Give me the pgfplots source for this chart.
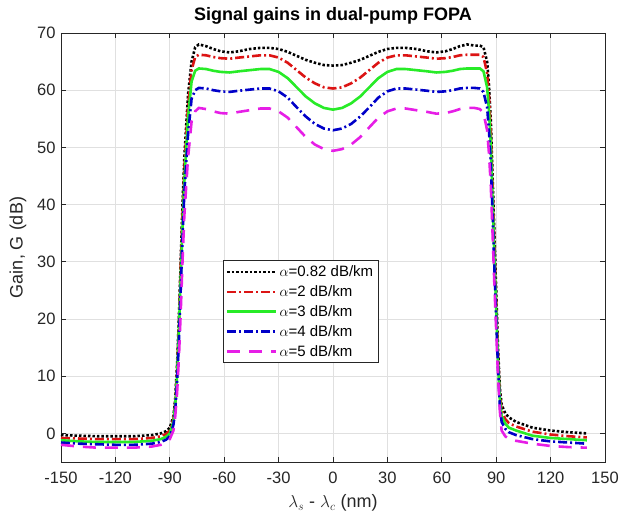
\documentclass[border=0pt]{standalone}
\usepackage{pgfplots}
\pgfplotsset{compat=1.18}
\usepackage{pgfplotstable}
\usepackage{fontspec}
\setmainfont{Liberation Sans}
\definecolor{axgray}{RGB}{38,38,38}
\definecolor{mred}{RGB}{220,20,20}
\definecolor{mgreen}{RGB}{40,235,40}
\definecolor{mblue}{RGB}{0,0,200}
\definecolor{mmag}{RGB}{230,30,230}
\pgfplotstableread{
x a b c d e
-150 -0.3 -0.8 -1.2 -1.6 -2.0
-140 -0.4 -0.9 -1.4 -1.8 -2.3
-130 -0.5 -1.0 -1.5 -1.9 -2.5
-120 -0.5 -1.0 -1.5 -2.0 -2.5
-110 -0.5 -1.0 -1.5 -2.0 -2.5
-100 -0.3 -0.8 -1.3 -1.8 -2.3
-95 0.0 -0.5 -1.0 -1.5 -2.0
-92 0.4 -0.1 -0.6 -1.1 -1.6
-90 1.0 0.5 0.0 -0.5 -1.0
-88 3 2.5 2 1.5 0.5
-87 6 5.5 5 4 3
-86 12 11 10 9 7
-85 20 19 18 16 13
-84 30 29 27 25 21
-83 40 38 36 34 30
-82 48 46 44 42 38
-80 59 57 55 52 48
-78 65 63.5 61.5 58.5 54.5
-76 67.5 65.8 63.4 60.0 56.3
-74 68 66.2 63.8 60.4 56.9
-70 67.7 66.1 63.7 60.3 56.7
-66 67.2 65.8 63.4 60.0 56.3
-62 66.8 65.6 63.2 59.8 56.0
-57 66.6 65.5 63.1 59.7 55.9
-52 66.8 65.7 63.3 59.9 56.2
-46 67.2 65.9 63.5 60.1 56.5
-40 67.4 66.1 63.7 60.3 56.8
-35 67.4 66.1 63.7 60.3 56.8
-30 67.2 65.7 63.2 59.8 56.3
-25 66.7 64.8 62.1 58.7 55.2
-20 66.0 63.5 60.5 57.0 53.5
-15 65.3 62.2 58.9 55.4 51.8
-10 64.8 61.2 57.7 54.1 50.5
-5 64.4 60.5 56.9 53.3 49.7
0 64.3 60.3 56.6 53.0 49.4
5 64.4 60.5 56.9 53.3 49.7
10 64.8 61.2 57.7 54.1 50.5
15 65.3 62.2 58.9 55.4 51.8
20 66.0 63.5 60.5 57.0 53.5
25 66.7 64.8 62.1 58.7 55.2
30 67.2 65.7 63.2 59.8 56.3
35 67.4 66.1 63.7 60.3 56.8
40 67.4 66.1 63.7 60.3 56.8
46 67.2 65.9 63.5 60.1 56.5
52 66.8 65.7 63.3 59.9 56.2
57 66.6 65.5 63.1 59.7 55.9
62 66.8 65.6 63.2 59.8 56.0
66 67.2 65.8 63.4 60.0 56.3
70 67.7 66.1 63.7 60.3 56.7
74 68 66.2 63.8 60.4 56.9
78 67.8 66.2 63.8 60.4 56.9
81 67.8 66.2 63.8 60.3 56.7
83 67.5 65.8 63.3 59.7 56.0
85 65 63 60.5 57 53
86 61 59 56.5 53 49
87 55 53 50.5 47.5 43.5
88 45 43 41 38.5 35
89 35 33 31 29 26
90 25 23 21.5 20 18
91 15 13.5 12.5 11.5 10
92 8 7 6 5 4
93 5 4 3 2 0.5
95 3.5 2.5 1.7 0.8 -0.5
97 2.8 1.8 1.0 0.2 -1.0
101 2.0 1.2 0.5 -0.3 -1.3
110 1.0 0.3 -0.4 -1.0 -1.8
120 0.5 -0.2 -0.8 -1.4 -2.2
130 0.2 -0.5 -1.0 -1.6 -2.4
140 0.0 -0.7 -1.2 -1.8 -2.5
}\gaindata
\begin{document}
\begin{tikzpicture}
\begin{axis}[
  name=ax,
  width=544pt, height=429pt, scale only axis,
  xmin=-150, xmax=150, ymin=-5, ymax=70,
  xtick={-150,-120,...,150}, ytick={0,10,...,70},
  /pgf/number format/assume math mode=true,
  tick label style={font=\fontsize{16.5}{19}\selectfont, text=axgray},
  xticklabel style={yshift=-6pt},
  yticklabel style={xshift=-2pt},
  grid=major,
  major grid style={color=black!12, line width=0.6pt},
  axis line style={color=axgray, line width=0.8pt},
  tick style={color=axgray, line width=0.8pt},
  tick align=inside,
  major tick length=5pt,
  xtick pos=both, ytick pos=both,
  title={\textbf{Signal gains in dual-pump FOPA}},
  title style={font=\fontsize{18}{21}\selectfont, at={(axis description cs:0.5,1.025)}, anchor=center},
  xlabel={$\lambda_s$ - $\lambda_c$ (nm)},
  xlabel style={font=\fontsize{18}{21}\selectfont, text=axgray, at={(axis description cs:0.5,-0.096)}, anchor=center},
  ylabel={Gain, G (dB)},
  ylabel style={font=\fontsize{18}{21}\selectfont, text=axgray, at={(axis description cs:-0.079,0.5)}, anchor=center},
  legend style={at={(axis description cs:0.297,0.470)}, anchor=north west,
     font=\fontsize{15}{17}\selectfont, draw=axgray, line width=0.8pt, fill=white,
     row sep=3.5pt, inner xsep=3pt, inner ysep=3pt},
  legend cell align=left,
  legend image code/.code={\draw[#1] (0pt,0pt) -- (49pt,0pt);},
]
\addplot[black, line width=2.6pt, dash pattern=on 2.5pt off 2pt] table[x=x,y=a] {\gaindata};
\addlegendentry{$\alpha$=0.82 dB/km}
\addplot[mred, line width=2.6pt, dash pattern=on 9pt off 3pt on 2pt off 3pt] table[x=x,y=b] {\gaindata};
\addlegendentry{$\alpha$=2 dB/km}
\addplot[mgreen, line width=2.6pt] table[x=x,y=c] {\gaindata};
\addlegendentry{$\alpha$=3 dB/km}
\addplot[mblue, line width=2.6pt, dash pattern=on 9pt off 3pt on 2pt off 3pt] table[x=x,y=d] {\gaindata};
\addlegendentry{$\alpha$=4 dB/km}
\addplot[mmag, line width=2.6pt, dash pattern=on 13pt off 9pt] table[x=x,y=e] {\gaindata};
\addlegendentry{$\alpha$=5 dB/km}
\end{axis}
\pgfresetboundingbox
\useasboundingbox ([shift={(-61pt,-51pt)}]ax.south west) rectangle ([shift={(558pt,462pt)}]ax.south west);
\end{tikzpicture}
\end{document}
